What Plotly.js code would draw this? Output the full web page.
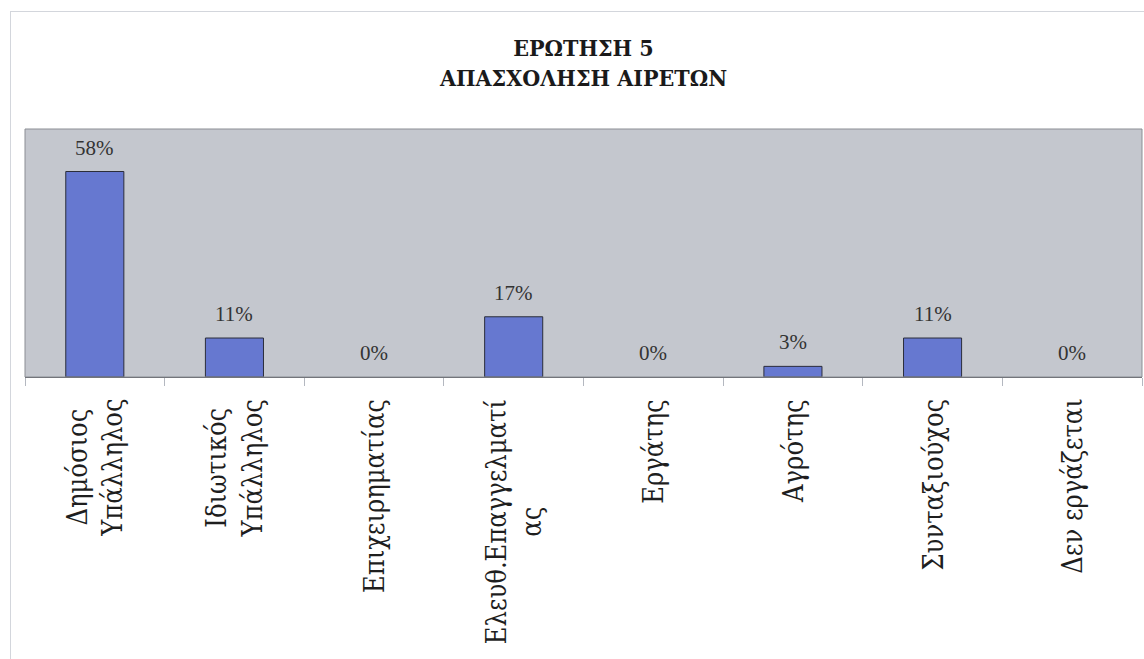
<!DOCTYPE html>
<html>
<head>
<meta charset="utf-8">
<script src="https://cdn.plot.ly/plotly-3.0.1.min.js"></script>
<style>
  html, body { margin: 0; padding: 0; background: #ffffff; }
  #wrap { position: relative; width: 1144px; height: 659px; }
  #chart { width: 1144px; height: 659px; }
  #frame { position: absolute; left: 10px; top: 11px; right: 0; bottom: 0;
           border-left: 1px solid #d3d6dc; border-top: 1px solid #d3d6dc; pointer-events: none; }
</style>
</head>
<body>
<div id="wrap">
  <div id="chart"></div>
  <div id="frame"></div>
</div>
<script>
// ---- data ----
const categories = ["Δημόσιος Υπάλληλος", "Ιδιωτικός Υπάλληλος", "Επιχειρηματίας",
                    "Ελευθ.Επαγγελματίας", "Εργάτης", "Αγρότης", "Συνταξιούχος", "Δεν εργάζεται"];
const tickLabels = ["Δημόσιος<br>Υπάλληλος", "Ιδιωτικός<br>Υπάλληλος", "Επιχειρηματίας",
                    "Ελευθ.Επαγγελματί<br>ας", "Εργάτης", "Αγρότης", "Συνταξιούχος", "Δεν εργάζεται"];
const percentages = [58, 11, 0, 17, 0, 3, 11, 0];
const titleLines = ["ΕΡΩΤΗΣΗ 5", "ΑΠΑΣΧΟΛΗΣΗ ΑΙΡΕΤΩΝ"];

const SERIF = "'Liberation Serif', 'Times New Roman', Times, serif";
const GREEK_SERIF = "'DejaVu Serif Condensed', 'DejaVu Serif', serif";

// ---- chart ----
const trace = {
  type: "bar",
  x: categories,
  y: percentages,
  marker: {
    color: "#6678d0",
    line: { color: "#2b2d3a", width: percentages.map(v => (v > 0 ? 1 : 0)) }
  },
  hoverinfo: "x+y"
};

const valueAnnotations = categories.map((c, i) => ({
  x: c, y: percentages[i], xref: "x", yref: "y",
  text: percentages[i] + "%",
  showarrow: false, yanchor: "middle", xanchor: "center", yshift: 24,
  font: { family: SERIF, size: 21, color: "#333333" }
}));

const labelAnnotations = categories.map((c, i) => ({
  x: c, y: 0, xref: "x", yref: "paper",
  text: tickLabels[i],
  textangle: -90, align: "center",
  showarrow: false, yanchor: "top", xanchor: "center", yshift: -20,
  font: { family: GREEK_SERIF, size: 27, color: "#1e1e1e" }
}));

const layout = {
  width: 1144, height: 659,
  margin: { l: 25, r: 2, t: 129, b: 282 },
  paper_bgcolor: "rgba(0,0,0,0)",
  plot_bgcolor: "#c4c7ce",
  font: { family: SERIF },
  showlegend: false,
  bargap: 0.584,
  title: {
    text: "<b>" + titleLines.join("<br>") + "</b>",
    x: 0.5, xref: "paper", xanchor: "center",
    y: 0.915, yref: "container", yanchor: "top",
    font: { family: GREEK_SERIF, size: 23, color: "#1a1a1a" }
  },
  xaxis: {
    type: "category",
    showticklabels: false,
    ticks: "outside", tickson: "boundaries", ticklen: 8, tickcolor: "#b4b8c0", tickwidth: 1,
    showline: true, linecolor: "#5a5d63", linewidth: 1,
    showgrid: false, zeroline: false, fixedrange: true
  },
  yaxis: {
    range: [0, 70], visible: false, showgrid: false, zeroline: false, fixedrange: true
  },
  shapes: [{
    type: "rect", xref: "paper", yref: "paper", x0: 0, x1: 1, y0: 0, y1: 1,
    line: { color: "#8b8e94", width: 1 }, fillcolor: "rgba(0,0,0,0)", layer: "above"
  }],
  annotations: valueAnnotations.concat(labelAnnotations)
};

Plotly.newPlot("chart", [trace], layout, { displayModeBar: false, staticPlot: true });
</script>
</body>
</html>
